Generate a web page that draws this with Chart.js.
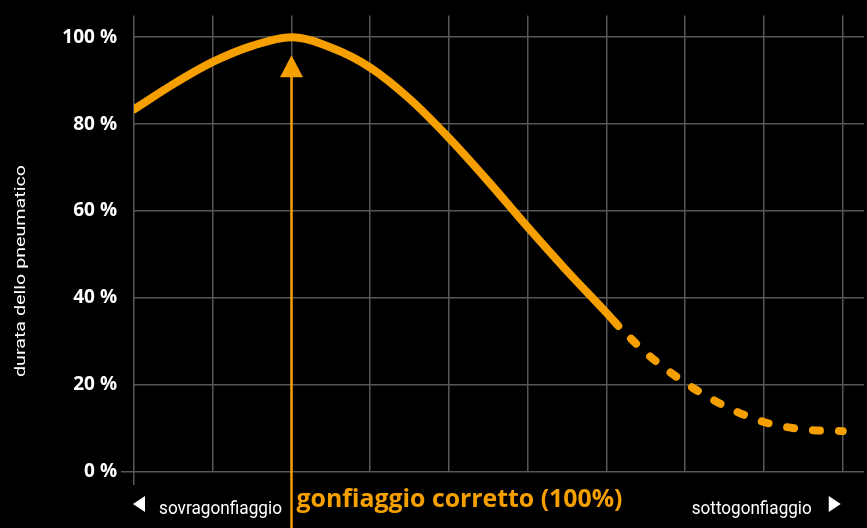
<!DOCTYPE html>
<html>
<head>
<meta charset="utf-8">
<script src="https://cdn.jsdelivr.net/npm/chart.js@4/dist/chart.umd.min.js"></script>
<style>
html,body{margin:0;padding:0;background:#000;overflow:hidden;}
#wrap{width:867px;height:528px;position:relative;}
</style>
</head>
<body>
<div id="wrap"><canvas id="c"></canvas></div>
<script>
// ---- data ----
const solidX = [0, 0.5, 1, 1.5, 2, 2.5, 3, 3.5, 4, 4.5, 5, 5.5, 6, 6.15];
const solidY = [83.4, 89.2, 94.3, 98.0, 100, 97.6, 93.0, 85.8, 76.8, 66.8, 56.3, 46.2, 36.6, 33.6];
const dashX = [6.15, 6.5, 7, 7.5, 8, 8.5, 9];
const dashY = [33.6, 27.4, 20.5, 15.2, 11.5, 9.8, 9.4];
const yTickValues = [0, 20, 40, 60, 80, 100];
const correctX = 2;
const yTitle = 'durata dello pneumatico';
const leftLabel = 'sovragonfiaggio';
const rightLabel = 'sottogonfiaggio';
const centerLabel = 'gonfiaggio corretto (100%)';

const ORANGE = '#f5a000';
const GRID = '#575757';

const solidData = solidX.map((x, i) => ({x, y: solidY[i]}));
const dashData = dashX.map((x, i) => ({x, y: dashY[i]}));

function fitText(ctx, text, x, y, font, targetW, align) {
  ctx.save();
  ctx.font = font;
  const w = ctx.measureText(text).width;
  const s = targetW / w;
  ctx.translate(x, y);
  ctx.scale(s, 1);
  ctx.textAlign = align;
  ctx.fillText(text, 0, 0);
  ctx.restore();
}

const decor = {
  id: 'decor',
  beforeDatasetsDraw(chart) {
    const ctx = chart.ctx;
    const xs = chart.scales.x.getPixelForValue(correctX);
    const peak = chart.scales.y.getPixelForValue(Math.max(...solidY));
    const apex = peak + 18;
    const base = apex + 22;
    ctx.save();
    ctx.strokeStyle = ORANGE;
    ctx.fillStyle = ORANGE;
    ctx.lineWidth = 2.5;
    ctx.beginPath();
    ctx.moveTo(xs, base - 1);
    ctx.lineTo(xs, chart.height);
    ctx.stroke();
    ctx.beginPath();
    ctx.moveTo(xs, apex);
    ctx.lineTo(xs - 11.5, base);
    ctx.lineTo(xs + 11.5, base);
    ctx.closePath();
    ctx.fill();
    ctx.restore();
  },
  afterDraw(chart) {
    const ctx = chart.ctx;
    const ca = chart.chartArea;
    ctx.save();
    ctx.fillStyle = '#fff';
    ctx.textBaseline = 'alphabetic';
    // y title
    ctx.save();
    ctx.translate(25, 271);
    ctx.rotate(-Math.PI / 2);
    fitText(ctx, yTitle, 0, 0, '15.5px Roboto', 212, 'center');
    ctx.restore();
    // left triangle + label
    const ty = 504;
    ctx.beginPath();
    ctx.moveTo(ca.left - 1, ty);
    ctx.lineTo(ca.left + 11, ty - 8);
    ctx.lineTo(ca.left + 11, ty + 8);
    ctx.closePath();
    ctx.fill();
    fitText(ctx, leftLabel, ca.left + 25, 513.5, '18px Roboto', 123, 'left');
    // right triangle + label
    const rx = chart.scales.x.getPixelForValue(9);
    ctx.beginPath();
    ctx.moveTo(rx - 2, ty);
    ctx.lineTo(rx - 14, ty - 8);
    ctx.lineTo(rx - 14, ty + 8);
    ctx.closePath();
    ctx.fill();
    fitText(ctx, rightLabel, rx - 31, 513.5, '18px Roboto', 120, 'right');
    // center label
    ctx.fillStyle = ORANGE;
    const xs = chart.scales.x.getPixelForValue(correctX);
    fitText(ctx, centerLabel, xs + 5, 507, 'bold 25px "Open Sans"', 326, 'left');
    ctx.restore();
  }
};

new Chart(document.getElementById('c'), {
  type: 'line',
  data: {
    datasets: [
      {
        data: solidData,
        borderColor: ORANGE,
        borderWidth: 8,
        pointRadius: 0,
        cubicInterpolationMode: 'monotone',
        borderCapStyle: 'round',
        borderJoinStyle: 'round',
        fill: false
      },
      {
        data: dashData,
        borderColor: ORANGE,
        borderWidth: 8,
        pointRadius: 0,
        cubicInterpolationMode: 'monotone',
        borderCapStyle: 'round',
        borderJoinStyle: 'round',
        borderDash: [7, 19],
        borderDashOffset: 8,
        fill: false
      }
    ]
  },
  options: {
    responsive: true,
    maintainAspectRatio: false,
    animation: false,
    devicePixelRatio: 1,
    layout: {padding: {top: 14, right: 3, left: 0, bottom: 0}},
    plugins: {legend: {display: false}, tooltip: {enabled: false}},
    scales: {
      x: {
        type: 'linear',
        min: 0,
        max: 9.27,
        bounds: 'data',
        ticks: {stepSize: 1, includeBounds: false, display: false},
        grid: {
          color: GRID,
          lineWidth: 1.5,
          drawTicks: true,
          tickLength: 13,
          tickColor: c => c.index === 0 ? GRID : 'rgba(0,0,0,0)'
        },
        border: {display: false},
        afterFit: s => { s.height = 56; }
      },
      y: {
        type: 'linear',
        min: 0,
        max: 105,
        bounds: 'data',
        afterBuildTicks: s => { s.ticks = yTickValues.map(v => ({value: v})); },
        ticks: {
          stepSize: 20,
          includeBounds: false,
          color: '#fff',
          padding: 4,
          font: {family: '"Open Sans"', weight: 'bold', size: 19},
          callback: v => v + ' %'
        },
        grid: {
          color: GRID,
          lineWidth: 1.5,
          drawTicks: true,
          tickLength: 13,
          tickColor: c => c.index === 0 ? GRID : 'rgba(0,0,0,0)'
        },
        border: {display: false},
        afterFit: s => { s.width = 134; }
      }
    }
  },
  plugins: [decor]
});
</script>
</body>
</html>
